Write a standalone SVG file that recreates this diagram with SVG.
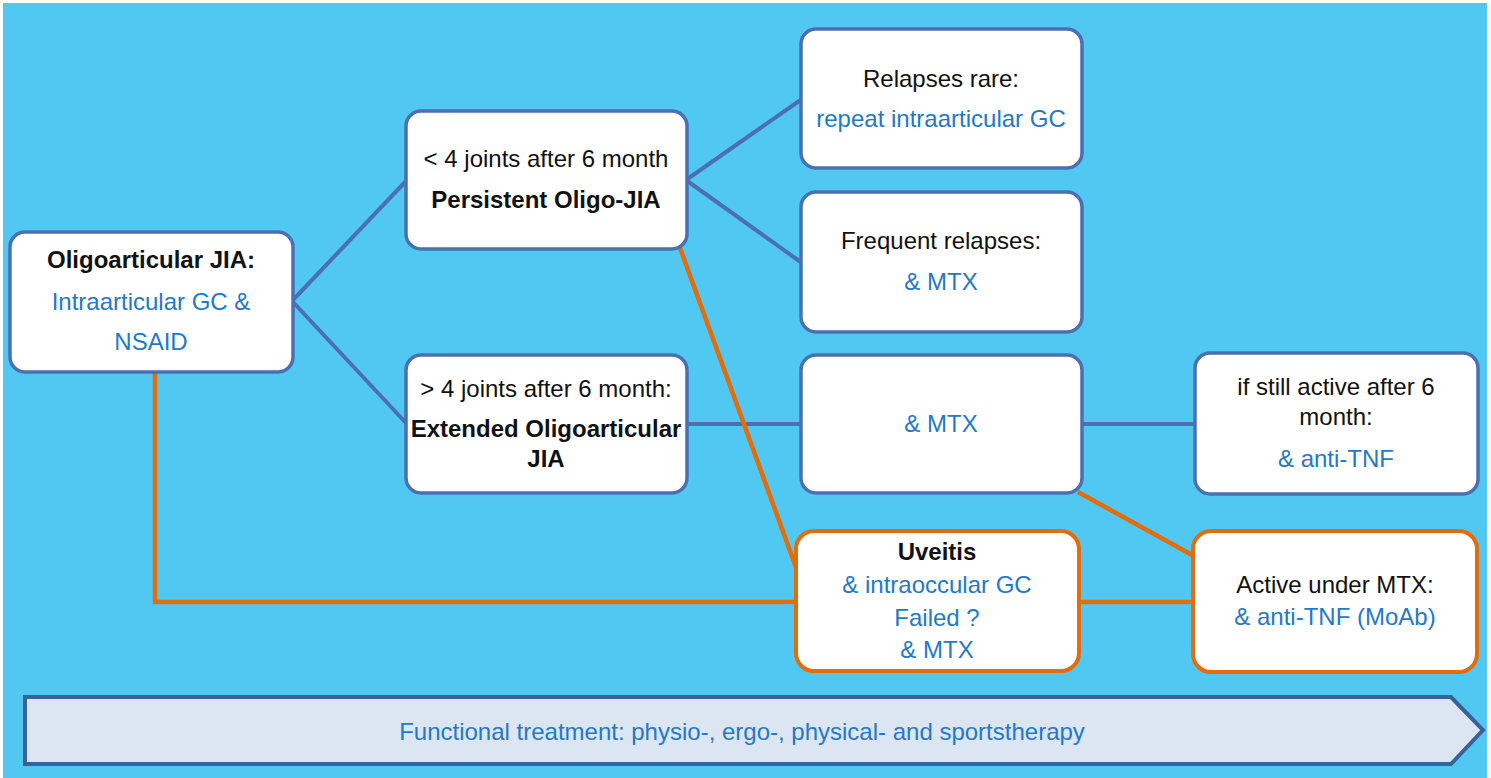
<svg xmlns="http://www.w3.org/2000/svg" width="1491" height="778" viewBox="0 0 1491 778">
<style>
.bg{fill:#50C8F2}
.box{fill:#fff;stroke:#4A70B2;stroke-width:3.5}
.obox{fill:#fff;stroke:#E46C0A;stroke-width:4}
.bl{stroke:#4A70B2;stroke-width:4;fill:none}
.ol{stroke:#E46C0A;stroke-width:4.5;fill:none}
text{font-family:"Liberation Sans",Arial,sans-serif;font-size:24px;text-anchor:middle}
.k{fill:#111}
.b{font-weight:bold;fill:#111}
.u{fill:#2379C6}
</style>
<rect class="bg" x="3" y="3" width="1484" height="775"/>
<g id="connectors">
<line class="bl" x1="292" y1="301" x2="407" y2="180"/>
<line class="bl" x1="292" y1="301" x2="407" y2="424"/>
<line class="bl" x1="686" y1="180" x2="802" y2="99"/>
<line class="bl" x1="686" y1="180" x2="802" y2="263"/>
<line class="bl" x1="686" y1="424" x2="802" y2="424"/>
<line class="bl" x1="1081" y1="424" x2="1196" y2="424"/>
<line class="ol" x1="680" y1="248" x2="797" y2="570"/>
<polyline class="ol" points="155,372 155,602 797,602"/>
<line class="ol" x1="1078" y1="492" x2="1194" y2="556"/>
<line class="ol" x1="1079" y1="602" x2="1194" y2="602"/>
</g>
<g id="n1">
<rect class="box" x="10" y="232" width="283" height="140" rx="15"/>
<text class="b" x="151" y="268">Oligoarticular JIA:</text>
<text class="u" x="151" y="310">Intraarticular GC &amp;</text>
<text class="u" x="151" y="350">NSAID</text>
</g>
<g id="n2">
<rect class="box" x="406" y="111" width="281" height="138" rx="15"/>
<text class="k" x="546" y="167">&lt; 4 joints after 6 month</text>
<text class="b" x="546" y="208">Persistent Oligo-JIA</text>
</g>
<g id="n3">
<rect class="box" x="406" y="355" width="281" height="138" rx="15"/>
<text class="k" x="546" y="397">&gt; 4 joints after 6 month:</text>
<text class="b" x="546" y="437">Extended Oligoarticular</text>
<text class="b" x="546" y="467">JIA</text>
</g>
<g id="n4">
<rect class="box" x="801" y="29" width="281" height="139" rx="15"/>
<text class="k" x="941" y="87">Relapses rare:</text>
<text class="u" x="941" y="127">repeat intraarticular GC</text>
</g>
<g id="n5">
<rect class="box" x="801" y="192" width="281" height="140" rx="15"/>
<text class="k" x="941" y="249">Frequent relapses:</text>
<text class="u" x="941" y="290">&amp; MTX</text>
</g>
<g id="n6">
<rect class="box" x="801" y="355" width="281" height="138" rx="15"/>
<text class="u" x="941" y="432">&amp; MTX</text>
</g>
<g id="n7">
<rect class="box" x="1195" y="353" width="283" height="141" rx="15"/>
<text class="k" x="1336" y="395">if still active after 6</text>
<text class="k" x="1336" y="425">month:</text>
<text class="u" x="1336" y="467">&amp; anti-TNF</text>
</g>
<g id="n8">
<rect class="obox" x="1193" y="531" width="284" height="141" rx="18"/>
<text class="k" x="1335" y="593">Active under MTX:</text>
<text class="u" x="1335" y="625">&amp; anti-TNF (MoAb)</text>
</g>
<g id="n9">
<rect class="obox" x="796" y="531" width="283" height="140" rx="18"/>
<text class="b" x="937" y="560">Uveitis</text>
<text class="u" x="937" y="593">&amp; intraoccular GC</text>
<text class="u" x="937" y="626">Failed ?</text>
<text class="u" x="937" y="658">&amp; MTX</text>
</g>
<g id="footer">
<polygon points="25,697 1451,697 1483,730 1451,764 25,764" fill="#DCE6F2" stroke="#3A6296" stroke-width="4"/>
<text class="u" x="742" y="740">Functional treatment: physio-, ergo-, physical- and sportstherapy</text>
</g>
</svg>
